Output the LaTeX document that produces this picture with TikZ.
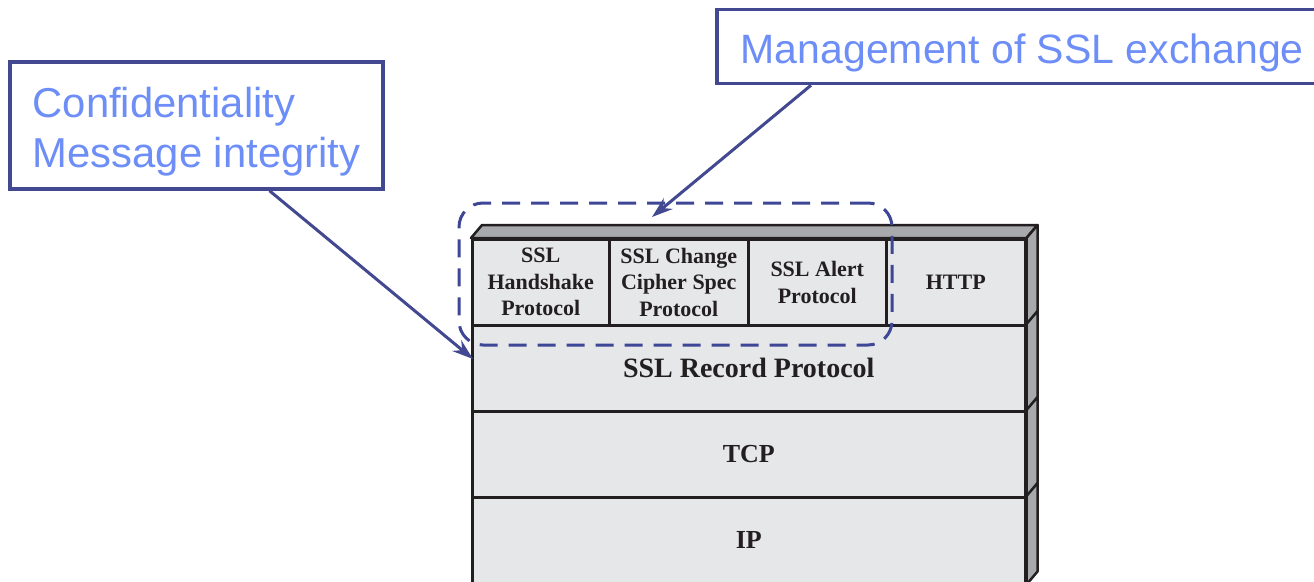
\documentclass[tikz,border=0pt]{standalone}
\usepackage{fontspec}
\setmainfont{Liberation Serif}
\newfontfamily\calloutfont{Liberation Sans}
\usetikzlibrary{arrows.meta}
\definecolor{calloutblue}{RGB}{67,73,145}
\definecolor{groupblue}{RGB}{62,70,150}
\definecolor{callouttext}{RGB}{110,142,247}
\definecolor{facefront}{RGB}{230,231,233}
\definecolor{faceshade}{RGB}{167,169,172}
\definecolor{edgedark}{RGB}{35,31,32}

\begin{document}
\begin{tikzpicture}[x=1pt,y=-1pt,
  callout/.style={draw=calloutblue, line width=3.5pt, fill=white,
    font=\calloutfont\fontsize{41}{50}\selectfont, text=callouttext,
    inner xsep=22pt, inner ysep=0pt},
  layer/.style={draw=edgedark, line width=2.5pt, fill=facefront, inner sep=0pt,
    font=\bfseries\fontsize{26}{30}\selectfont, text=edgedark, anchor=north west},
  cell/.style={layer, font=\bfseries\fontsize{22}{26.5}\selectfont, align=center,
    minimum height=86pt},
  shade/.style={draw=edgedark, line width=2.5pt, fill=faceshade, line join=round},
  group/.style={draw=groupblue, line width=3pt, dash pattern=on 18pt off 11pt,
    rounded corners=24pt, inner sep=0pt},
  pointer/.style={draw=calloutblue, line width=3pt,
    -{Stealth[length=21pt,width=14pt,inset=7pt]}}
]
\useasboundingbox (0,0) rectangle (1314,581);

% protocol stack, front faces
\node[cell, minimum width=137pt] (hs)    at (471,238) {SSL\\Handshake\\Protocol};
\node[cell, minimum width=139pt] (ccs)   at (608,238) {SSL Change\\Cipher Spec\\Protocol};
\node[cell, minimum width=138pt] (alert) at (747,238) {SSL Alert\\Protocol};
\node[cell, minimum width=139pt] (http)  at (885,238) {HTTP};
\node[layer, minimum width=553pt, minimum height=86pt,
  font=\bfseries\fontsize{28}{30}\selectfont] (rec) at (471,324) {SSL Record Protocol};
\node[layer, minimum width=553pt, minimum height=86pt] (tcp) at (471,410) {TCP};
\node[layer, minimum width=553pt, minimum height=86pt] (ip)  at (471,496) {IP};

% top face
\draw[shade] (hs.north west) -- ++(11,-13)
  -- ([shift={(11,-13)}]http.north east) -- (http.north east) -- cycle;

% right side faces, one per layer
\foreach \L in {http,rec,tcp,ip}{
  \draw[shade] (\L.north east) -- ++(11,-13)
    -- ([shift={(11,-13)}]\L.south east) -- (\L.south east) -- cycle;
}

% dashed group around the SSL upper-layer protocols
\node[group, minimum width=433pt, minimum height=142pt] (grp) at (675.5,274) {};

% callouts
\node[callout, font=\calloutfont\fontsize{41.8}{50}\selectfont,
  align=left, text height=92pt, text depth=9pt,
  minimum width=373pt, minimum height=127pt] (conf) at (196.5,125.5)
  {Confidentiality\\Message integrity};
\node[callout, inner xsep=24pt, text height=42pt, text depth=9pt, minimum height=74pt,
  anchor=west] (mgmt) at (715,46.5) {Management of SSL exchange};

\coordinate (tip1) at (473,359);
\coordinate (tip2) at (652,217);
\draw[pointer] ([xshift=73pt]conf.south) -- (tip1);
\draw[pointer] ([xshift=96pt]mgmt.south west) -- (tip2);
\end{tikzpicture}
\end{document}
